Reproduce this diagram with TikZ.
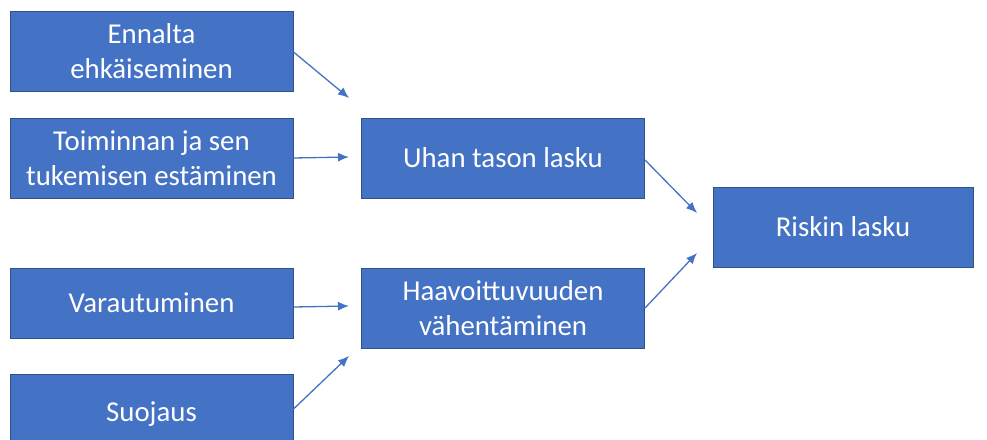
\documentclass[tikz,border=0pt]{standalone}
\usepackage{fontspec}
\setmainfont{Carlito}
\usetikzlibrary{arrows.meta}
\definecolor{boxblue}{HTML}{4472C4}
\definecolor{boxedge}{HTML}{2F528F}
\begin{document}
\begin{tikzpicture}[x=1pt,y=-1pt,
  box/.style={draw=boxedge,line width=1pt,fill=boxblue,text=white,align=center,
    minimum width=283pt,minimum height=80pt,inner sep=0pt,
    font=\fontsize{28.8}{35}\selectfont},
  arr/.style={-{Latex[length=11pt,width=9pt]},draw=boxblue,line width=1.3pt}]
  \useasboundingbox (0,0) rectangle (987,439);

  % Left column
  \node[box] (ennalta) at (151.5,51) {Ennalta\\ehkäiseminen};
  \node[box] (toiminta) at (151.5,158) {Toiminnan ja sen\\tukemisen estäminen};
  \node[box,minimum height=70pt] (varaut) at (151.5,303) {Varautuminen};
  \node[box] (suojaus) at (151.5,414) {Suojaus};

  % Middle column
  \node[box] (uhka) at (503,158) {Uhan tason lasku};
  \node[box] (haavoitt) at (503,308) {Haavoittuvuuden\\vähentäminen};

  % Right
  \node[box,minimum width=260pt] (riski) at (843,227) {Riskin lasku};

  % Arrow ends
  \coordinate (t1) at (349,98);
  \coordinate (t2) at (349,157);
  \coordinate (t3) at (349,306);
  \coordinate (t4) at (349,356);
  \coordinate (t5) at (697,213);
  \coordinate (t6) at (697,253);

  % Arrows
  \draw[arr] (ennalta.east) ++(0,1) -- (t1);
  \draw[arr] (toiminta.east) -- (t2);
  \draw[arr] (varaut.east) ++(0,4) -- (t3);
  \draw[arr] (suojaus.east) ++(0,-5) -- (t4);
  \draw[arr] (uhka.east) ++(0,2) -- (t5);
  \draw[arr] (haavoitt.east) -- (t6);
\end{tikzpicture}
\end{document}
